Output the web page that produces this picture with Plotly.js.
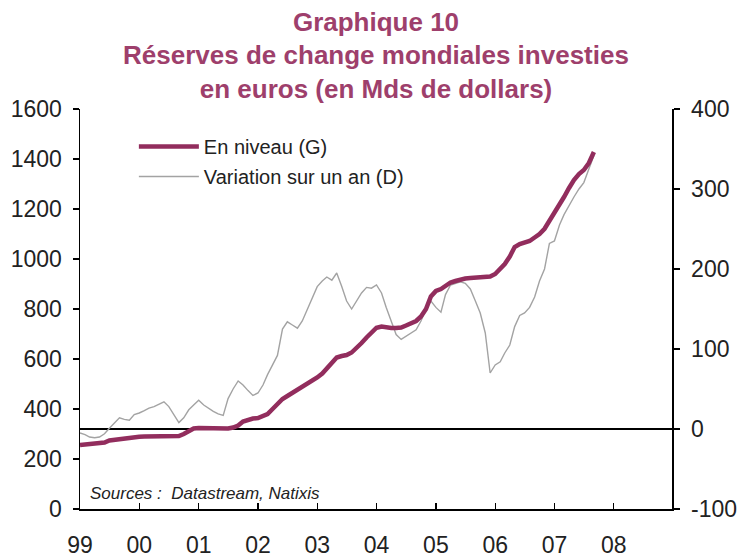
<!DOCTYPE html>
<html>
<head>
<meta charset="utf-8">
<script src="https://cdn.plot.ly/plotly-3.0.1.min.js"></script>
<style>html,body{margin:0;padding:0;background:#fff;}#chart{width:739px;height:558px;}</style>
</head>
<body>
<div id="chart"></div>
<script>
// Monthly data, January 1999 to September 2007
var startYear = 1999;
var nMonths = 105;

// En niveau (G), left axis, bn USD
var levelValues = [
  256, 258, 259, 260, 263, 266, 274, 277, 280, 283, 286, 288,
  289, 290, 290, 291, 292, 292, 290, 288, 292, 300, 312, 322,
  324, 324, 323, 322, 321, 320, 322, 326, 334, 350, 358, 362,
  364, 370, 380, 400, 420, 440, 452, 464, 476, 488, 500, 512,
  526, 542, 562, 585, 606, 612, 616, 626, 644, 664, 686, 708,
  725, 730, 726, 724, 724, 726, 734, 742, 752, 770, 800, 850,
  872, 880, 892, 906, 912, 918, 922, 924, 926, 926, 928, 930,
  940, 958, 980, 1010, 1048, 1060, 1066, 1072, 1086, 1100, 1121, 1152,
  1183, 1214, 1248, 1284, 1316, 1340, 1356, 1384, 1428
];

// Variation sur un an (D), right axis, bn USD
var changeValues = [
  -5, -7, -10, -11, -10, -6, 1, 8, 14, 12, 11, 18,
  20, 23, 26, 28, 31, 34, 28, 18, 8, 14, 24, 30,
  36, 30, 26, 22, 19, 17, 38, 50, 60, 55, 48, 42,
  45, 55, 68, 80, 92, 125, 134, 130, 126, 135, 150, 165,
  178, 185, 190, 186, 195, 178, 160, 150, 160, 170, 177, 176,
  180, 170, 152, 135, 118, 112, 116, 120, 124, 135, 150, 160,
  152, 146, 168, 180, 182, 184, 182, 175, 160, 145, 120, 70,
  80, 84, 95, 105, 128, 142, 145, 152, 165, 185, 200, 232,
  235, 255, 268, 280, 290, 300, 308, 325, 342
];

var yearTickLabels = ['99', '00', '01', '02', '03', '04', '05', '06', '07', '08'];
var yearTickDates = ['1999-01-01', '2000-01-01', '2001-01-01', '2002-01-01', '2003-01-01',
                     '2004-01-01', '2005-01-01', '2006-01-01', '2007-01-01', '2008-01-01'];
var rightTickValues = [-100, 0, 100, 200, 300, 400];
var rightTickLabels = ['-100', '0', '100', '200', '300', '400'];

function pad(n) { return (n < 10 ? '0' : '') + n; }
var months = [];
for (var m = 0; m < nMonths; m++) {
  months.push((startYear + Math.floor(m / 12)) + '-' + pad(m % 12 + 1) + '-01');
}

var FONT = 'Arial, "Liberation Sans", sans-serif';
var TXT = '#222222';

var traceChange = {
  x: months, y: changeValues, type: 'scatter', mode: 'lines',
  name: 'Variation sur un an (D)', yaxis: 'y', legendrank: 2, legendgroup: 'b',
  line: { color: '#a3a3a3', width: 1.4 }, hoverinfo: 'x+y'
};
var traceLevel = {
  x: months, y: levelValues, type: 'scatter', mode: 'lines',
  name: 'En niveau (G)', yaxis: 'y2', legendrank: 1, legendgroup: 'a',
  line: { color: '#922d5d', width: 4.5 }, hoverinfo: 'x+y'
};

var layout = {
  width: 739, height: 558,
  margin: { l: 80, r: 67, t: 109, b: 49, pad: 0 },
  paper_bgcolor: '#ffffff', plot_bgcolor: '#ffffff',
  font: { family: FONT, color: TXT },
  title: {
    text: '<b>Graphique 10<br>Réserves de change mondiales investies<br>en euros (en Mds de dollars)</b>',
    font: { family: FONT, size: 26, color: '#9e3f6c' },
    x: 0.5, xref: 'paper', xanchor: 'center',
    y: 0.945, yref: 'container', yanchor: 'top'
  },
  showlegend: true,
  legend: {
    x: 0.091, y: 0.955, xanchor: 'left', yanchor: 'top',
    bgcolor: 'rgba(0,0,0,0)', borderwidth: 0,
    font: { family: FONT, size: 20, color: TXT },
    tracegroupgap: 1, traceorder: 'grouped', itemwidth: 60
  },
  xaxis: {
    type: 'date', range: ['1999-01-01', '2008-12-25'],
    tickmode: 'array', tickvals: yearTickDates, ticktext: yearTickLabels,
    ticks: 'inside', ticklen: 6, tickwidth: 1.3, tickcolor: '#000',
    showline: true, linecolor: '#000', linewidth: 1.5,
    showgrid: false, zeroline: false,
    tickfont: { family: FONT, size: 23, color: TXT },
    ticklabelstandoff: 15
  },
  yaxis: {
    side: 'right', range: [-100, 400],
    tickmode: 'array', tickvals: rightTickValues, ticktext: rightTickLabels,
    ticks: 'outside', ticklen: 6, tickwidth: 1.3, tickcolor: '#000',
    showline: true, linecolor: '#000', linewidth: 1.5,
    showgrid: false, zeroline: true, zerolinecolor: '#000', zerolinewidth: 1.5,
    tickfont: { family: FONT, size: 23, color: TXT },
    ticklabelstandoff: 7
  },
  yaxis2: {
    overlaying: 'y', side: 'left', range: [0, 1600], dtick: 200, tick0: 0,
    ticks: 'outside', ticklen: 6, tickwidth: 1.3, tickcolor: '#000',
    showline: true, linecolor: '#000', linewidth: 1.5,
    showgrid: false, zeroline: false,
    tickfont: { family: FONT, size: 23, color: TXT },
    ticklabelstandoff: 6
  },
  annotations: [{
    text: '<i>Sources :  Datastream, Natixis</i>',
    xref: 'paper', yref: 'paper', x: 0.013, y: 0.04,
    xanchor: 'left', yanchor: 'middle', showarrow: false,
    font: { family: FONT, size: 17, color: TXT }
  }]
};

Plotly.newPlot('chart', [traceChange, traceLevel], layout, { displayModeBar: false, staticPlot: true });
</script>
</body>
</html>
